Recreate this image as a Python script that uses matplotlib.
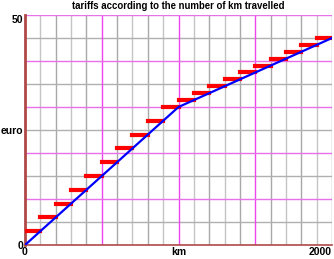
import numpy as np
import matplotlib
matplotlib.use("Agg")
import matplotlib.pyplot as plt

plt.rcParams['font.family'] = ['Liberation Sans', 'DejaVu Sans']

# tariff curve (km -> euro)
km_points = [0, 1000, 2000]
euro_points = [0, 30, 45]

# step tariffs: each 100 km band and its price
band_start = [0, 100, 200, 300, 400, 500, 600, 700, 800, 900,
              1000, 1100, 1200, 1300, 1400, 1500, 1600, 1700, 1800, 1900]
band_end = [100, 200, 300, 400, 500, 600, 700, 800, 900, 1000,
            1100, 1200, 1300, 1400, 1500, 1600, 1700, 1800, 1900, 2000]
band_price = [3, 6, 9, 12, 15, 18, 21, 24, 27, 30,
              31.5, 33, 34.5, 36, 37.5, 39, 40.5, 42, 43.5, 45]

x_ticks = [0, 1000, 2000]
x_labels = ['0', 'km', '2000']
y_ticks = [0, 25, 50]
y_labels = ['0', 'euro', '50']

fig = plt.figure(figsize=(3.34, 2.59), dpi=100)
ax = fig.add_axes([25 / 334, 14 / 259, 307 / 334, 230 / 259])
ax.set_xlim(0, 2000)
ax.set_ylim(0, 50)

# grid: gray every 100 km / 5 euro, magenta every 500 km / 10 euro
for i, gx in enumerate(np.arange(100, 2001, 100)):
    if gx % 500 == 0 and gx < 2000:
        ax.axvline(gx, color='#ee44ee', lw=1.0, zorder=1)
    else:
        ax.axvline(gx, color='#a8a8a8' if i % 2 else '#c4c4c4', lw=1.0, zorder=0)
for gy in np.arange(5, 51, 5):
    if gy % 10 == 0:
        ax.axhline(gy, color='#e870e8', lw=1.0, zorder=1)
    else:
        ax.axhline(gy, color='#b0b0b0', lw=1.0, zorder=0)

for x0, x1, p in zip(band_start, band_end, band_price):
    ax.plot([x0, x1], [p, p], color='#ff0000', lw=3.0,
            solid_capstyle='projecting', zorder=3)
ax.plot(km_points, euro_points, color='#0000ff', lw=1.6, zorder=4)

for side in ['top', 'right']:
    ax.spines[side].set_visible(False)
ax.spines['left'].set_color('#b04848')
ax.spines['left'].set_linewidth(2.0)
ax.spines['bottom'].set_color('#b04848')
ax.spines['bottom'].set_linewidth(1.2)

ax.set_xticks(x_ticks)
ax.set_xticklabels(x_labels, fontsize=7.5, fontweight='bold')
ax.set_yticks(y_ticks)
ax.set_yticklabels(y_labels, fontsize=7.5, fontweight='bold')
ax.tick_params(length=0, pad=1.5)
ax.get_xticklabels()[-1].set_ha('right')
ax.get_yticklabels()[-1].set_va('top')

fig.text(178 / 334, 1 - 6 / 259, 'tariffs according to the number of km travelled',
         ha='center', va='center', fontsize=6.9, fontweight='bold')

fig.savefig('out.png', dpi=100, facecolor='white')
